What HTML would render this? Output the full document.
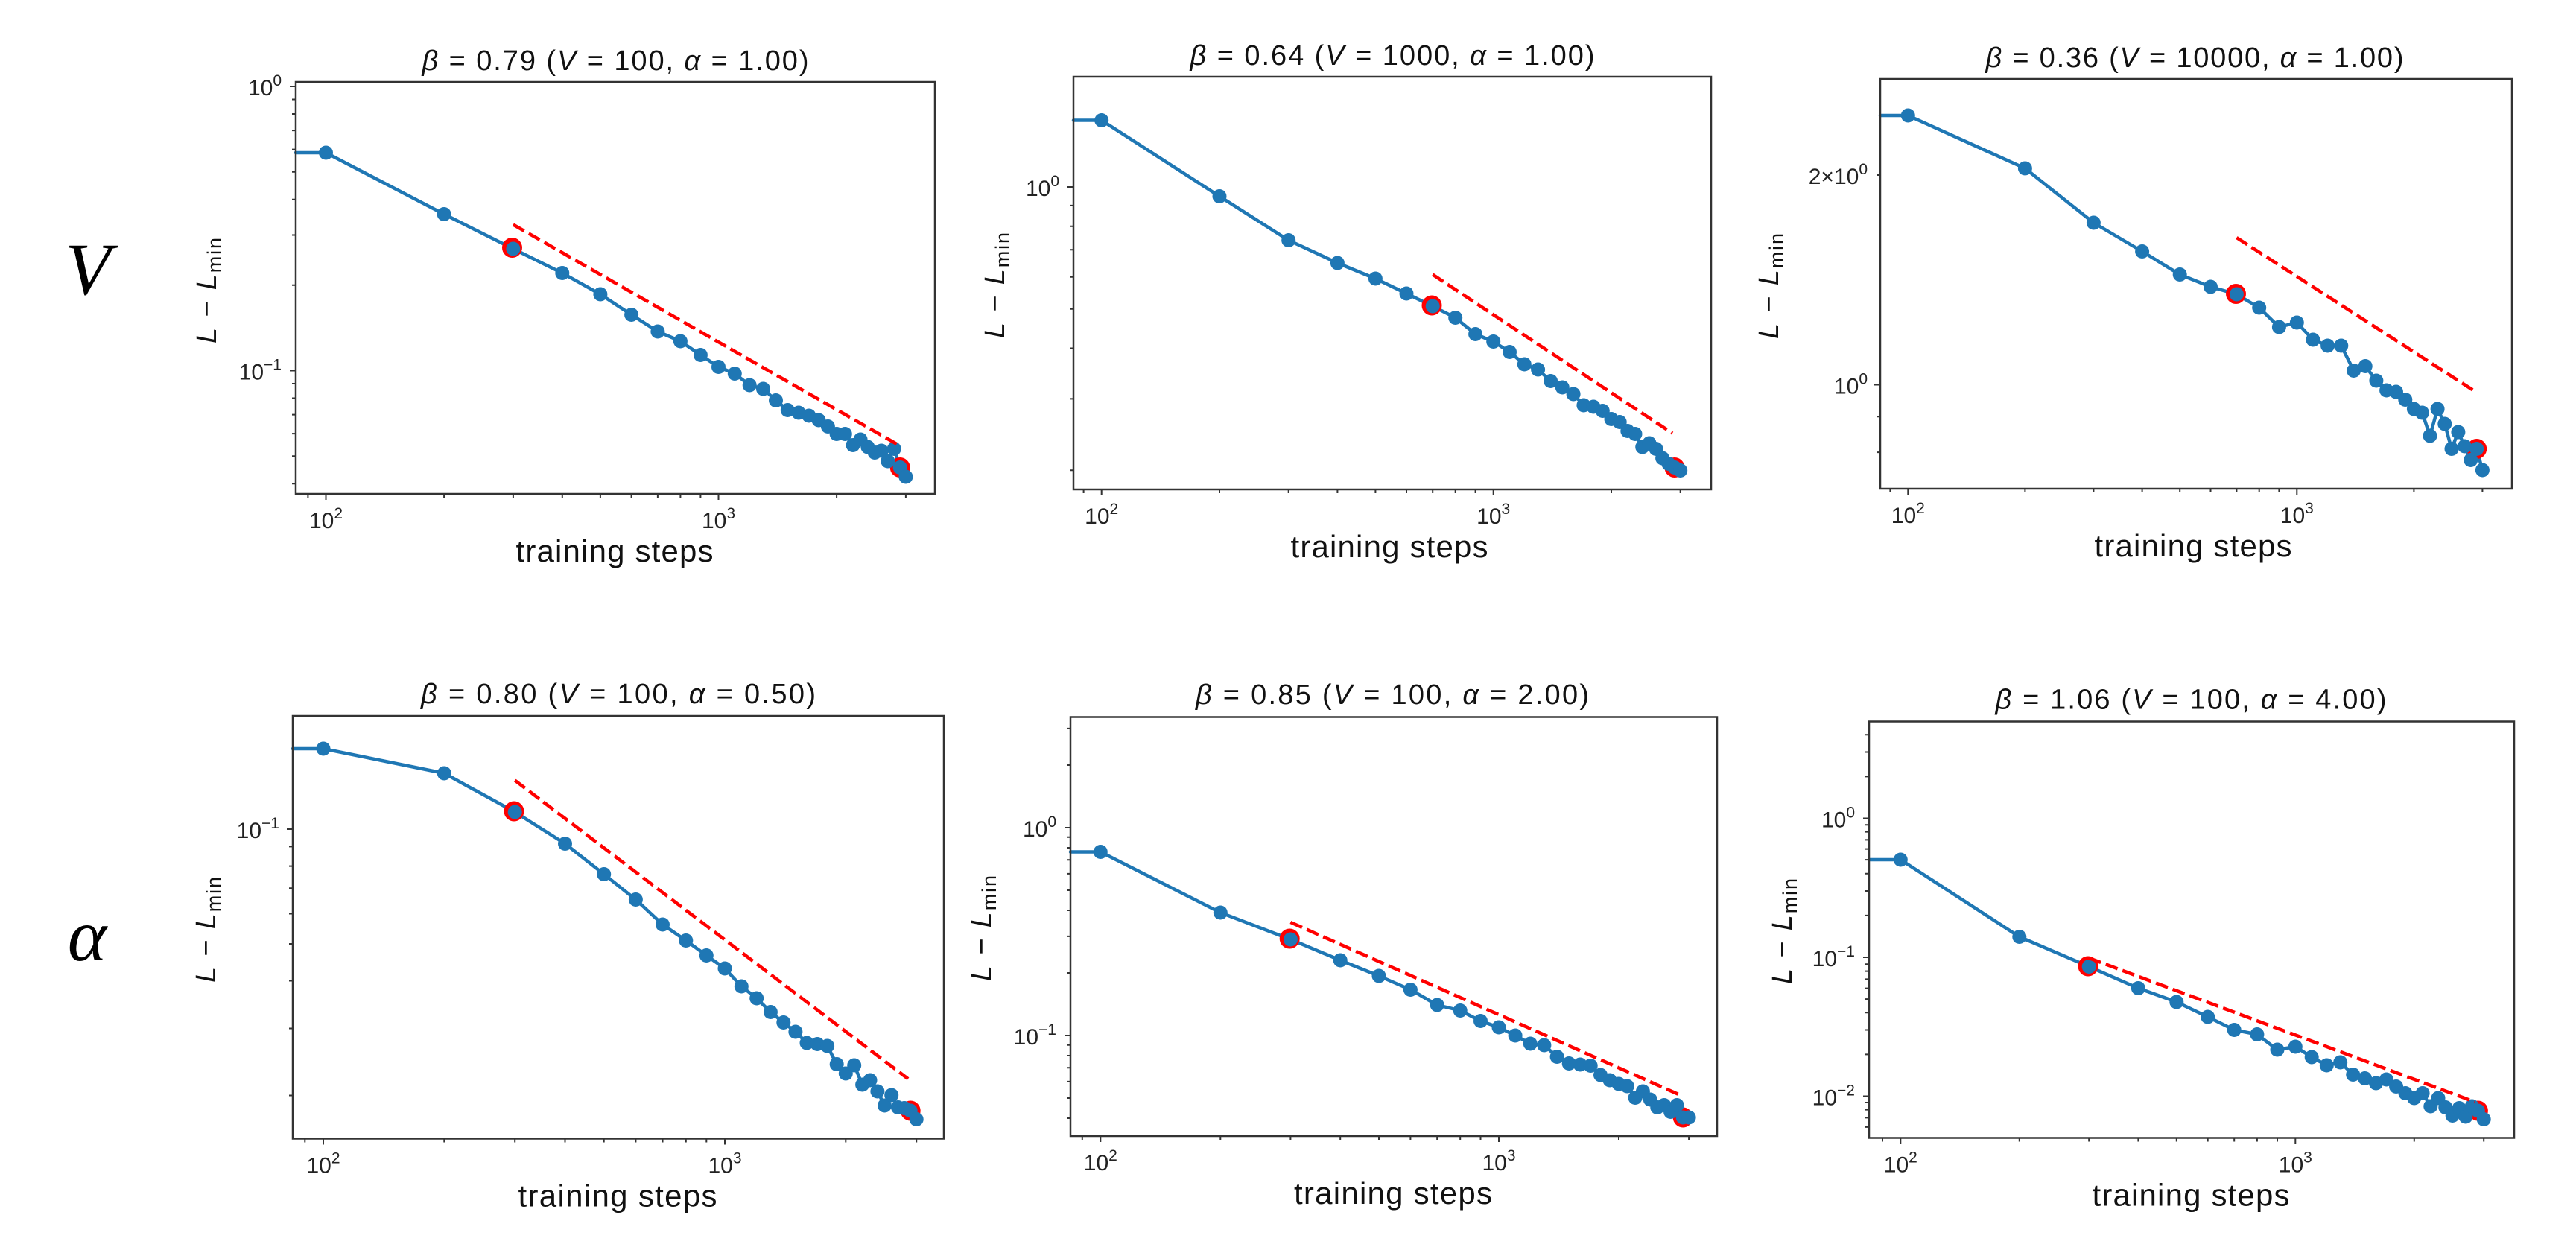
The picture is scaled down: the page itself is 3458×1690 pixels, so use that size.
<!DOCTYPE html>
<html><head><meta charset="utf-8">
<style>
html,body{margin:0;padding:0;background:#fff}
svg{display:block}
.ax{fill:none;stroke:#333;stroke-width:2.5}
.tk{fill:none;stroke:#333;stroke-width:2}
.ln{fill:none;stroke:#1f77b4;stroke-width:4.5;stroke-linejoin:round;stroke-linecap:round}
.mk{fill:none;stroke:none;marker-start:url(#m);marker-mid:url(#m);marker-end:url(#m)}
.dl{fill:none;stroke:#ff0000;stroke-width:4.5;stroke-dasharray:17 7}
.rm{fill:#ff0000}
.t{font-size:38px;fill:#111}
.xl{font-size:42px;fill:#111}
.yl{font-size:38px;fill:#111}
.tl{font-size:30px;fill:#222}
.it{font-style:italic}
</style></head>
<body>
<svg width="3458" height="1690" viewBox="0 0 3458 1690" xmlns="http://www.w3.org/2000/svg" font-family="'Liberation Sans', 'DejaVu Sans', sans-serif">
<defs>
<marker id="m" markerUnits="userSpaceOnUse" markerWidth="22" markerHeight="22" refX="11" refY="11" overflow="visible"><circle cx="11" cy="11" r="9.5" fill="#1f77b4"/></marker>
</defs>
<rect width="3458" height="1690" fill="#fff"/>

<!-- row labels -->
<text x="118" y="395" font-family="'Liberation Serif', serif" font-style="italic" font-size="100" text-anchor="middle" fill="#000">V</text>
<text x="117" y="1289" font-family="'Liberation Serif', serif" font-style="italic" font-size="100" text-anchor="middle" fill="#000">α</text>

<!-- ===== Panel 1 ===== -->
<g>
<polyline class="ln" points="397,205 437.5,205 596.1,287.5 688.9,334 754.8,366.5 805.9,395 847.6,422.5 882.9,445 913.4,458 940.4,476.5 964.5,492.5 986.3,501.5 1006.2,517 1024.5,522 1041.5,537.5 1057.3,550.5 1072.1,554 1085.9,558 1099.0,564 1111.4,572.5 1123.1,582.5 1134.3,582.5 1145.0,597.5 1155.1,590 1164.9,600 1174.2,607.5 1183.2,605 1191.8,619 1200.2,602.5 1208.2,627.5 1215.9,640"/>
<circle class="rm" cx="687.5" cy="332.5" r="13.5"/><circle class="rm" cx="1208.2" cy="627.5" r="13.5"/>
<polyline class="mk" points="437.5,205 596.1,287.5 688.9,334 754.8,366.5 805.9,395 847.6,422.5 882.9,445 913.4,458 940.4,476.5 964.5,492.5 986.3,501.5 1006.2,517 1024.5,522 1041.5,537.5 1057.3,550.5 1072.1,554 1085.9,558 1099.0,564 1111.4,572.5 1123.1,582.5 1134.3,582.5 1145.0,597.5 1155.1,590 1164.9,600 1174.2,607.5 1183.2,605 1191.8,619 1200.2,602.5 1208.2,627.5 1215.9,640"/>
<line class="dl" x1="688.9" y1="301.5" x2="1205" y2="596.7"/>
<rect class="ax" x="397" y="110" width="858" height="553"/>
<path class="tk" d="M397 116h-8M397 497.5h-8M397 133.5h-5M397 153h-5M397 175.1h-5M397 200.6h-5M397 230.8h-5M397 267.8h-5M397 315.5h-5M397 382.7h-5M397 515h-5M397 534.5h-5M397 556.6h-5M397 582.1h-5M397 612.3h-5M397 649.3h-5M437.5 663v8M964.5 663v8M413.4 663v5M596.1 663v5M688.9 663v5M754.8 663v5M805.9 663v5M847.6 663v5M882.9 663v5M913.4 663v5M940.4 663v5M1123.1 663v5M1215.9 663v5"/>
<text class="tl" x="378" y="128" text-anchor="end">10<tspan font-size="21" dy="-13">0</tspan></text>
<text class="tl" x="378" y="509.5" text-anchor="end">10<tspan font-size="21" dy="-13">−1</tspan></text>
<text class="tl" x="437.5" y="709" text-anchor="middle">10<tspan font-size="21" dy="-13">2</tspan></text>
<text class="tl" x="964.5" y="709" text-anchor="middle">10<tspan font-size="21" dy="-13">3</tspan></text>
<text class="t" x="826" y="94" text-anchor="middle" textLength="519"><tspan class="it">β</tspan> = 0.79 (<tspan class="it">V</tspan> = 100, <tspan class="it">α</tspan> = 1.00)</text>
<text class="xl" x="825" y="754" text-anchor="middle" textLength="265">training steps</text>
<text class="yl" transform="translate(290,390) rotate(-90)" text-anchor="middle" textLength="142"><tspan class="it">L</tspan> − <tspan class="it">L</tspan><tspan font-size="27" dy="7">min</tspan></text>
</g>

<!-- ===== Panel 2 ===== -->
<g>
<polyline class="ln" points="1441,161.5 1478.7,161.5 1637.0,263.5 1729.7,322.5 1795.4,353 1846.4,374 1888.0,394 1923.2,411 1953.7,426.5 1980.6,448.5 2004.7,458.5 2026.5,472.5 2046.3,489 2064.6,496 2081.6,511.5 2097.3,520 2112.1,529 2125.9,544 2139.0,546 2151.3,551.5 2163.0,562.5 2174.2,566.5 2184.8,578.5 2195.0,582.5 2204.7,600 2214.0,595 2223.0,602.5 2231.6,615 2239.9,622.5 2247.9,627.5 2255.7,631.5"/>
<circle class="rm" cx="1922" cy="410" r="13.5"/><circle class="rm" cx="2247.9" cy="627.5" r="13.5"/>
<polyline class="mk" points="1478.7,161.5 1637.0,263.5 1729.7,322.5 1795.4,353 1846.4,374 1888.0,394 1923.2,411 1953.7,426.5 1980.6,448.5 2004.7,458.5 2026.5,472.5 2046.3,489 2064.6,496 2081.6,511.5 2097.3,520 2112.1,529 2125.9,544 2139.0,546 2151.3,551.5 2163.0,562.5 2174.2,566.5 2184.8,578.5 2195.0,582.5 2204.7,600 2214.0,595 2223.0,602.5 2231.6,615 2239.9,622.5 2247.9,627.5 2255.7,631.5"/>
<line class="dl" x1="1923.2" y1="368.5" x2="2245" y2="581.5"/>
<rect class="ax" x="1441" y="103" width="856" height="554"/>
<path class="tk" d="M1441 251h-8M1441 275.9h-5M1441 303.7h-5M1441 335.3h-5M1441 371.7h-5M1441 414.8h-5M1441 467.5h-5M1441 535.4h-5M1441 631.2h-5M1478.7 657v8M2004.7 657v8M1454.6 657v5M1637.0 657v5M1729.7 657v5M1795.4 657v5M1846.4 657v5M1888.0 657v5M1923.2 657v5M1953.7 657v5M1980.6 657v5M2163.0 657v5M2255.7 657v5"/>
<text class="tl" x="1422" y="263" text-anchor="end">10<tspan font-size="21" dy="-13">0</tspan></text>
<text class="tl" x="1478.7" y="703" text-anchor="middle">10<tspan font-size="21" dy="-13">2</tspan></text>
<text class="tl" x="2004.7" y="703" text-anchor="middle">10<tspan font-size="21" dy="-13">3</tspan></text>
<text class="t" x="1869" y="87" text-anchor="middle" textLength="543"><tspan class="it">β</tspan> = 0.64 (<tspan class="it">V</tspan> = 1000, <tspan class="it">α</tspan> = 1.00)</text>
<text class="xl" x="1865" y="748" text-anchor="middle" textLength="265">training steps</text>
<text class="yl" transform="translate(1348,383) rotate(-90)" text-anchor="middle" textLength="142"><tspan class="it">L</tspan> − <tspan class="it">L</tspan><tspan font-size="27" dy="7">min</tspan></text>
</g>

<!-- ===== Panel 3 ===== -->
<g>
<polyline class="ln" points="2524,155 2561.3,155 2718.4,226 2810.4,299 2875.6,337.5 2926.2,368.5 2967.5,385 3002.4,395 3032.7,413 3059.4,439 3083.3,433 3104.9,456 3124.6,464 3142.8,464 3159.6,497.5 3175.2,491.5 3189.9,511 3203.6,524 3216.5,526 3228.8,536.5 3240.4,549 3251.5,554 3262.0,585 3272.1,549 3281.8,569 3291.0,602.5 3299.9,580 3308.5,599 3316.7,617.5 3324.7,602.5 3332.4,631"/>
<circle class="rm" cx="3001.5" cy="394.5" r="13.5"/><circle class="rm" cx="3324.7" cy="602.5" r="13.5"/>
<polyline class="mk" points="2561.3,155 2718.4,226 2810.4,299 2875.6,337.5 2926.2,368.5 2967.5,385 3002.4,395 3032.7,413 3059.4,439 3083.3,433 3104.9,456 3124.6,464 3142.8,464 3159.6,497.5 3175.2,491.5 3189.9,511 3203.6,524 3216.5,526 3228.8,536.5 3240.4,549 3251.5,554 3262.0,585 3272.1,549 3281.8,569 3291.0,602.5 3299.9,580 3308.5,599 3316.7,617.5 3324.7,602.5 3332.4,631"/>
<line class="dl" x1="3002.4" y1="319" x2="3322" y2="525.1"/>
<rect class="ax" x="2524" y="106" width="848" height="550"/>
<path class="tk" d="M2524 516.5h-8M2524 235h-5M2524 559.3h-5M2524 607.1h-5M2561.3 656v8M3083.3 656v8M2537.4 656v5M2718.4 656v5M2810.4 656v5M2875.6 656v5M2926.2 656v5M2967.5 656v5M3002.4 656v5M3032.7 656v5M3059.4 656v5M3240.4 656v5M3332.4 656v5"/>
<text class="tl" x="2507" y="247" text-anchor="end">2×10<tspan font-size="21" dy="-13">0</tspan></text>
<text class="tl" x="2507" y="528.5" text-anchor="end">10<tspan font-size="21" dy="-13">0</tspan></text>
<text class="tl" x="2561.3" y="702" text-anchor="middle">10<tspan font-size="21" dy="-13">2</tspan></text>
<text class="tl" x="3083.3" y="702" text-anchor="middle">10<tspan font-size="21" dy="-13">3</tspan></text>
<text class="t" x="2946" y="90" text-anchor="middle" textLength="561"><tspan class="it">β</tspan> = 0.36 (<tspan class="it">V</tspan> = 10000, <tspan class="it">α</tspan> = 1.00)</text>
<text class="xl" x="2944" y="747" text-anchor="middle" textLength="265">training steps</text>
<text class="yl" transform="translate(2387,384) rotate(-90)" text-anchor="middle" textLength="142"><tspan class="it">L</tspan> − <tspan class="it">L</tspan><tspan font-size="27" dy="7">min</tspan></text>
</g>

<!-- ===== Panel 4 ===== -->
<g>
<polyline class="ln" points="393,1005 434,1005 596.3,1038 691.2,1090 758.5,1132.5 810.7,1173.5 853.4,1207.5 889.5,1241 920.8,1262.5 948.3,1282.5 973,1300 995.3,1324 1015.7,1340 1034.4,1358.5 1051.8,1372.5 1067.9,1385 1083.0,1400 1097.2,1401.5 1110.6,1404 1123.2,1428.5 1135.3,1441 1146.7,1430 1157.6,1456 1168.0,1450 1177.9,1465 1187.5,1484 1196.7,1470 1205.5,1486.5 1214.0,1487.5 1222.2,1491 1230.2,1502.5"/>
<circle class="rm" cx="690" cy="1089" r="13.5"/><circle class="rm" cx="1222.2" cy="1491" r="13.5"/>
<polyline class="mk" points="434,1005 596.3,1038 691.2,1090 758.5,1132.5 810.7,1173.5 853.4,1207.5 889.5,1241 920.8,1262.5 948.3,1282.5 973,1300 995.3,1324 1015.7,1340 1034.4,1358.5 1051.8,1372.5 1067.9,1385 1083.0,1400 1097.2,1401.5 1110.6,1404 1123.2,1428.5 1135.3,1441 1146.7,1430 1157.6,1456 1168.0,1450 1177.9,1465 1187.5,1484 1196.7,1470 1205.5,1486.5 1214.0,1487.5 1222.2,1491 1230.2,1502.5"/>
<line class="dl" x1="691.2" y1="1047.5" x2="1219" y2="1448.2"/>
<rect class="ax" x="393" y="961" width="874" height="567.5"/>
<path class="tk" d="M393 1113h-8M393 1136.4h-5M393 1162.6h-5M393 1192.2h-5M393 1226.5h-5M393 1267h-5M393 1316.5h-5M393 1380.5h-5M393 1470.5h-5M434 1528.5v8M973 1528.5v8M409.3 1528.5v5M596.3 1528.5v5M691.2 1528.5v5M758.5 1528.5v5M810.7 1528.5v5M853.4 1528.5v5M889.5 1528.5v5M920.8 1528.5v5M948.3 1528.5v5M1135.3 1528.5v5M1230.2 1528.5v5"/>
<text class="tl" x="375" y="1125" text-anchor="end">10<tspan font-size="21" dy="-13">−1</tspan></text>
<text class="tl" x="434" y="1574.5" text-anchor="middle">10<tspan font-size="21" dy="-13">2</tspan></text>
<text class="tl" x="973" y="1574.5" text-anchor="middle">10<tspan font-size="21" dy="-13">3</tspan></text>
<text class="t" x="830" y="944" text-anchor="middle" textLength="530"><tspan class="it">β</tspan> = 0.80 (<tspan class="it">V</tspan> = 100, <tspan class="it">α</tspan> = 0.50)</text>
<text class="xl" x="829" y="1619.5" text-anchor="middle" textLength="267">training steps</text>
<text class="yl" transform="translate(289,1248) rotate(-90)" text-anchor="middle" textLength="142"><tspan class="it">L</tspan> − <tspan class="it">L</tspan><tspan font-size="27" dy="7">min</tspan></text>
</g>

<!-- ===== Panel 5 ===== -->
<g>
<polyline class="ln" points="1437,1143.5 1477.3,1143.5 1638.3,1225 1732.4,1261 1799.2,1289 1851.0,1310 1893.4,1328.5 1929.2,1349 1960.2,1356.5 1987.5,1370.5 2012.0,1379 2034.1,1390 2054.3,1401 2072.9,1403 2090.1,1418.5 2106.2,1427.5 2121.1,1429 2135.2,1430.5 2148.5,1443 2161.0,1450 2173.0,1455 2184.3,1458 2195.1,1473.5 2205.4,1465 2215.3,1476 2224.8,1486.5 2233.9,1483.5 2242.6,1492.5 2251.1,1483.5 2259.2,1500 2267.1,1500"/>
<circle class="rm" cx="1731.2" cy="1260" r="13.5"/><circle class="rm" cx="2259.2" cy="1500" r="13.5"/>
<polyline class="mk" points="1477.3,1143.5 1638.3,1225 1732.4,1261 1799.2,1289 1851.0,1310 1893.4,1328.5 1929.2,1349 1960.2,1356.5 1987.5,1370.5 2012.0,1379 2034.1,1390 2054.3,1401 2072.9,1403 2090.1,1418.5 2106.2,1427.5 2121.1,1429 2135.2,1430.5 2148.5,1443 2161.0,1450 2173.0,1455 2184.3,1458 2195.1,1473.5 2205.4,1465 2215.3,1476 2224.8,1486.5 2233.9,1483.5 2242.6,1492.5 2251.1,1483.5 2259.2,1500 2267.1,1500"/>
<line class="dl" x1="1732.4" y1="1238" x2="2254" y2="1469.3"/>
<rect class="ax" x="1437" y="962.5" width="868" height="562.5"/>
<path class="tk" d="M1437 1111h-8M1437 1390h-8M1437 977.9h-5M1437 1027h-5M1437 1123.8h-5M1437 1138h-5M1437 1154.2h-5M1437 1172.9h-5M1437 1195h-5M1437 1222h-5M1437 1256.9h-5M1437 1306h-5M1437 1402.8h-5M1437 1417h-5M1437 1433.2h-5M1437 1451.9h-5M1437 1474h-5M1437 1501h-5M1477.3 1525v8M2012 1525v8M1452.8 1525v5M1638.3 1525v5M1732.4 1525v5M1799.2 1525v5M1851.0 1525v5M1893.4 1525v5M1929.2 1525v5M1960.2 1525v5M1987.5 1525v5M2173.0 1525v5M2267.1 1525v5"/>
<text class="tl" x="1418" y="1123" text-anchor="end">10<tspan font-size="21" dy="-13">0</tspan></text>
<text class="tl" x="1418" y="1402" text-anchor="end">10<tspan font-size="21" dy="-13">−1</tspan></text>
<text class="tl" x="1477.3" y="1571" text-anchor="middle">10<tspan font-size="21" dy="-13">2</tspan></text>
<text class="tl" x="2012" y="1571" text-anchor="middle">10<tspan font-size="21" dy="-13">3</tspan></text>
<text class="t" x="1869" y="945" text-anchor="middle" textLength="528"><tspan class="it">β</tspan> = 0.85 (<tspan class="it">V</tspan> = 100, <tspan class="it">α</tspan> = 2.00)</text>
<text class="xl" x="1870" y="1616" text-anchor="middle" textLength="266">training steps</text>
<text class="yl" transform="translate(1330,1246) rotate(-90)" text-anchor="middle" textLength="142"><tspan class="it">L</tspan> − <tspan class="it">L</tspan><tspan font-size="27" dy="7">min</tspan></text>
</g>

<!-- ===== Panel 6 ===== -->
<g>
<polyline class="ln" points="2509,1154 2551.3,1154 2710.8,1257.5 2804.2,1297.5 2870.4,1326.5 2921.8,1345 2963.7,1365 2999.2,1382.5 3029.9,1388.5 3057.0,1409 3081.3,1405 3103.2,1419 3123.3,1430 3141.7,1426 3158.7,1442.5 3174.6,1447.5 3189.5,1454 3203.4,1449 3216.6,1458.5 3229.0,1467.5 3240.8,1474 3252.1,1467.5 3262.8,1485 3273.0,1474 3282.8,1486.5 3292.2,1497.5 3301.2,1487.5 3309.9,1499 3318.3,1485 3326.4,1491 3334.2,1502.5"/>
<circle class="rm" cx="2803" cy="1297" r="13.5"/><circle class="rm" cx="3326.4" cy="1491" r="13.5"/>
<polyline class="mk" points="2551.3,1154 2710.8,1257.5 2804.2,1297.5 2870.4,1326.5 2921.8,1345 2963.7,1365 2999.2,1382.5 3029.9,1388.5 3057.0,1409 3081.3,1405 3103.2,1419 3123.3,1430 3141.7,1426 3158.7,1442.5 3174.6,1447.5 3189.5,1454 3203.4,1449 3216.6,1458.5 3229.0,1467.5 3240.8,1474 3252.1,1467.5 3262.8,1485 3273.0,1474 3282.8,1486.5 3292.2,1497.5 3301.2,1487.5 3309.9,1499 3318.3,1485 3326.4,1491 3334.2,1502.5"/>
<line class="dl" x1="2804.2" y1="1286" x2="3322" y2="1479.1"/>
<rect class="ax" x="2509" y="968.5" width="866" height="559"/>
<path class="tk" d="M2509 1098.5h-8M2509 1285h-8M2509 1471.5h-8M2509 986.2h-5M2509 1009.5h-5M2509 1042.4h-5M2509 1107.2h-5M2509 1116.6h-5M2509 1127.4h-5M2509 1139.6h-5M2509 1154.1h-5M2509 1172.7h-5M2509 1196h-5M2509 1228.9h-5M2509 1294.2h-5M2509 1303.6h-5M2509 1314.4h-5M2509 1326.6h-5M2509 1341.1h-5M2509 1359.2h-5M2509 1382.5h-5M2509 1415.4h-5M2509 1480h-5M2509 1489.6h-5M2509 1500.4h-5M2509 1512.9h-5M2551.3 1527.5v8M3081.3 1527.5v8M2527 1527.5v5M2710.8 1527.5v5M2804.2 1527.5v5M2870.4 1527.5v5M2921.8 1527.5v5M2963.7 1527.5v5M2999.2 1527.5v5M3029.9 1527.5v5M3057.0 1527.5v5M3240.8 1527.5v5M3334.2 1527.5v5"/>
<text class="tl" x="2490" y="1110.5" text-anchor="end">10<tspan font-size="21" dy="-13">0</tspan></text>
<text class="tl" x="2490" y="1297" text-anchor="end">10<tspan font-size="21" dy="-13">−1</tspan></text>
<text class="tl" x="2490" y="1483.5" text-anchor="end">10<tspan font-size="21" dy="-13">−2</tspan></text>
<text class="tl" x="2551.3" y="1573.5" text-anchor="middle">10<tspan font-size="21" dy="-13">2</tspan></text>
<text class="tl" x="3081.3" y="1573.5" text-anchor="middle">10<tspan font-size="21" dy="-13">3</tspan></text>
<text class="t" x="2941" y="951.5" text-anchor="middle" textLength="525"><tspan class="it">β</tspan> = 1.06 (<tspan class="it">V</tspan> = 100, <tspan class="it">α</tspan> = 4.00)</text>
<text class="xl" x="2941" y="1618.5" text-anchor="middle" textLength="265">training steps</text>
<text class="yl" transform="translate(2405,1250) rotate(-90)" text-anchor="middle" textLength="142"><tspan class="it">L</tspan> − <tspan class="it">L</tspan><tspan font-size="27" dy="7">min</tspan></text>
</g>
</svg>
</body></html>
